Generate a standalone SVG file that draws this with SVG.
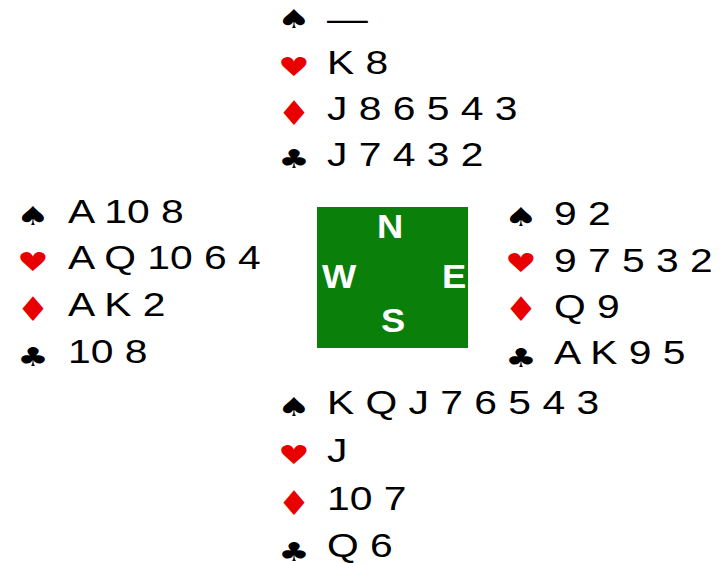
<svg xmlns="http://www.w3.org/2000/svg" width="725" height="563" viewBox="0 0 725 563">
<style>
.c{font-family:"Liberation Sans",Arial,sans-serif;font-size:34px;fill:#000}
.s{font-family:"DejaVu Sans",sans-serif;font-size:26px;text-anchor:middle}
.s.dm{font-size:34px}
.b{fill:#000}
.r{fill:#e80000}
.d{font-family:"Liberation Sans",Arial,sans-serif;font-size:33px;font-weight:bold;fill:#fff;text-anchor:middle}
</style>
<rect width="725" height="563" fill="#fff"/>
<g id="north">
<text class="s b" transform="translate(294,28) scale(1.45,1)">♠</text>
<text class="s r" transform="translate(294,76) scale(1.35,1)">♥</text>
<text class="s dm r" transform="translate(294,125) scale(1.1,1)">♦</text>
<text class="s b" transform="translate(294,168) scale(1.35,1)">♣</text>
<text class="c" transform="translate(327,30) scale(1.2,1)">—</text>
<text class="c" transform="translate(327,74) scale(1.2,1)">K 8</text>
<text class="c" transform="translate(327,120) scale(1.2,1)">J 8 6 5 4 3</text>
<text class="c" transform="translate(327,166) scale(1.2,1)">J 7 4 3 2</text>
</g>
<g id="west">
<text class="s b" transform="translate(33,225) scale(1.45,1)">♠</text>
<text class="s r" transform="translate(33,271) scale(1.35,1)">♥</text>
<text class="s dm r" transform="translate(33,321) scale(1.1,1)">♦</text>
<text class="s b" transform="translate(33,366) scale(1.35,1)">♣</text>
<text class="c" transform="translate(68,223) scale(1.2,1)">A 10 8</text>
<text class="c" transform="translate(68,269) scale(1.2,1)">A Q 10 6 4</text>
<text class="c" transform="translate(68,316) scale(1.2,1)">A K 2</text>
<text class="c" transform="translate(68,363) scale(1.2,1)">10 8</text>
</g>
<g id="table">
<rect x="317" y="207" width="151" height="141" fill="#0a7f0a"/>
<text class="d" transform="translate(390,238) scale(1.1,1)">N</text>
<text class="d" transform="translate(339,288) scale(1.1,1)">W</text>
<text class="d" transform="translate(454,288) scale(1.1,1)">E</text>
<text class="d" transform="translate(393,332) scale(1.1,1)">S</text>
</g>
<g id="east">
<text class="s b" transform="translate(521,226) scale(1.45,1)">♠</text>
<text class="s r" transform="translate(521,272) scale(1.35,1)">♥</text>
<text class="s dm r" transform="translate(521,321) scale(1.1,1)">♦</text>
<text class="s b" transform="translate(521,367) scale(1.35,1)">♣</text>
<text class="c" transform="translate(554,225) scale(1.2,1)">9 2</text>
<text class="c" transform="translate(554,272) scale(1.2,1)">9 7 5 3 2</text>
<text class="c" transform="translate(554,318) scale(1.2,1)">Q 9</text>
<text class="c" transform="translate(554,364) scale(1.2,1)">A K 9 5</text>
</g>
<g id="south">
<text class="s b" transform="translate(294,416) scale(1.45,1)">♠</text>
<text class="s r" transform="translate(294,464) scale(1.35,1)">♥</text>
<text class="s dm r" transform="translate(294,515) scale(1.1,1)">♦</text>
<text class="s b" transform="translate(294,561) scale(1.35,1)">♣</text>
<text class="c" transform="translate(327,414) scale(1.2,1)">K Q J 7 6 5 4 3</text>
<text class="c" transform="translate(327,462) scale(1.2,1)">J</text>
<text class="c" transform="translate(327,510) scale(1.2,1)">10 7</text>
<text class="c" transform="translate(327,557) scale(1.2,1)">Q 6</text>
</g>
</svg>
